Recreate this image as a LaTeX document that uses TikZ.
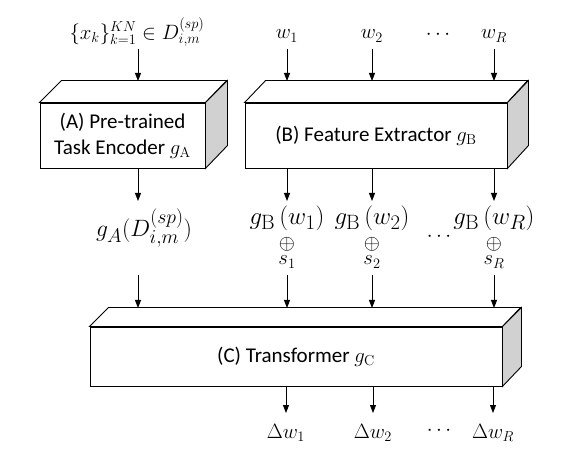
\documentclass[tikz,border=0pt]{standalone}
\usepackage[no-math]{fontspec}
\setmainfont{Carlito}
\usetikzlibrary{arrows.meta,calc}
\begin{document}
\begin{tikzpicture}[x=1pt,y=-1pt,
  line width=0.9pt,
  arr/.style={-{Triangle[length=8pt,width=6pt]}},
  frontbox/.style={draw,fill=white,rectangle,inner sep=0pt,align=center,
    font=\fontsize{21}{26}\selectfont},
  topface/.style={draw,fill=white},
  sideface/.style={draw,fill=black!18},
  lab/.style={inner sep=0pt,font=\fontsize{20.74}{24}\selectfont},
  biglab/.style={inner sep=0pt,font=\fontsize{24.88}{26}\selectfont}]
\useasboundingbox (0,0) rectangle (565,462);
\fill[white] (0,0) rectangle (565,462);
% Box A
\node[frontbox,minimum width=165pt,minimum height=65pt] (A) at (122.5,135.5)
  {(A) Pre-trained\\Task Encoder $g_{\mathrm{A}}$};
\draw[topface] (A.north west) -- ++(22,-22) -- ++(165,0) -- (A.north east) -- cycle;
\draw[sideface] (A.north east) -- ++(22,-22) -- ++(0,65) -- (A.south east) -- cycle;
% Box B
\node[frontbox,minimum width=262pt,minimum height=65pt] (B) at (376,135.5)
  {(B) Feature Extractor $g_{\mathrm{B}}$};
\draw[topface] (B.north west) -- ++(21,-22) -- ++(262,0) -- (B.north east) -- cycle;
\draw[sideface] (B.north east) -- ++(21,-22) -- ++(0,65) -- (B.south east) -- cycle;
% Box C
\node[frontbox,minimum width=412pt,minimum height=59pt] (C) at (296,356.5)
  {(C) Transformer $g_{\mathrm{C}}$};
\draw[topface] (C.north west) -- ++(19,-19) -- ++(412,0) -- (C.north east) -- cycle;
\draw[sideface] (C.north east) -- ++(19,-19) -- ++(0,59) -- (C.south east) -- cycle;
% labels
\node[lab] (xin) at (137,32) {$\{x_k\}_{k=1}^{KN}\in D_{i,m}^{(sp)}$};
\node[biglab] (gA) at (144,228) {\scalebox{0.95}{$g_A(D_{i,m}^{(sp)})$}};
\node[lab] (w1) at (287,36) {$w_1$};
\node[lab] (w2) at (372,36) {$w_2$};
\node[lab] (wR) at (494,36) {$w_R$};
\node[lab] (d1) at (438,35) {$\cdots$};
\node[biglab] (gB1) at (287,218) {$g_{\mathrm{B}}\,(w_1)$};
\node[biglab] (gB2) at (372,218) {$g_{\mathrm{B}}\,(w_2)$};
\node[biglab] (gBR) at (494,218) {$g_{\mathrm{B}}\,(w_R)$};
\node[lab] (o1) at (287,244) {$\oplus$};
\node[lab] (o2) at (372,244) {$\oplus$};
\node[lab] (oR) at (494,244) {$\oplus$};
\node[lab] (s1) at (287,262) {$s_1$};
\node[lab] (s2) at (372,262) {$s_2$};
\node[lab] (sR) at (494,262) {$s_R$};
\node[lab] (d2) at (439,237) {$\cdots$};
\node[lab] (dw1) at (286,433) {$\Delta w_1$};
\node[lab] (dw2) at (373,433) {$\Delta w_2$};
\node[lab] (dwR) at (493,433) {$\Delta w_R$};
\node[lab] (d3) at (439,431) {$\cdots$};
% arrow end points
\coordinate (xa) at (138,49);
\coordinate (xb) at (138,81);
\coordinate (aa) at (138,168);
\coordinate (ab) at (138,201);
\coordinate (ga) at (138,275);
\coordinate (gb) at (138,308);
% arrows
\draw[arr] (xa) -- (xb);
\draw[arr] (aa) -- (ab);
\draw[arr] (ga) -- (gb);
\foreach \n in {w1,w2,wR}{
  \draw[arr] (\n |- 0,49) -- (\n |- 0,81);
}
\foreach \n in {w1,w2,wR}{
  \draw[arr] (\n |- B.south) -- (\n |- 0,201);
}
\foreach \n in {s1,s2,sR}{
  \draw[arr] (\n |- 0,275) -- (\n |- 0,308);
}
\foreach \n in {dw1,dw2,dwR}{
  \draw[arr] (\n |- C.south) -- (\n |- 0,413);
}
\end{tikzpicture}
\end{document}
